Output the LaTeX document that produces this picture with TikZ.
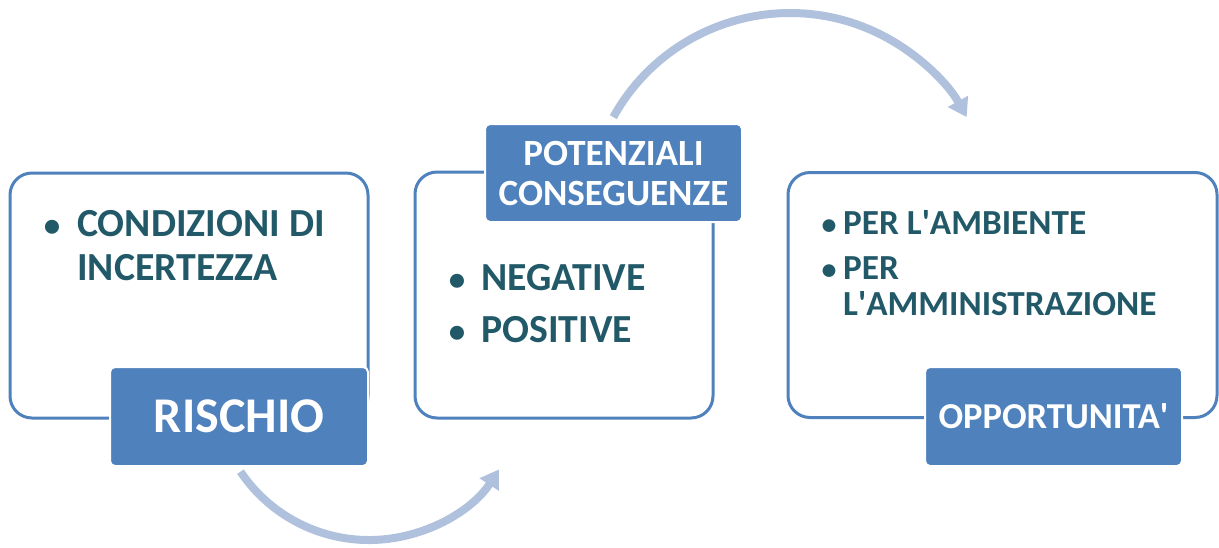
\documentclass[tikz,border=0pt]{standalone}
\usepackage{fontspec}
\setmainfont{Carlito}
\usetikzlibrary{arrows.meta}
\definecolor{boxblue}{HTML}{4F81BD}
\definecolor{txt}{HTML}{215968}
\definecolor{arr}{HTML}{AFC1DD}
\newcommand{\apo}{\textquotesingle}
\begin{document}
\begin{tikzpicture}[x=1pt,y=1pt,
  frame/.style={draw=boxblue, line width=3pt, rounded corners=22pt, inner sep=0pt},
  tag/.style={fill=boxblue, draw=white, line width=2pt, rounded corners=5pt, text=white, inner sep=0pt, align=center},
  item/.style={anchor=base west, inner sep=0pt, text=txt},
  dot/.style={anchor=base, inner sep=0pt, text=txt},
  flow/.style={draw=arr, line width=8pt, -{Triangle[length=18pt,width=22pt]}}]
\useasboundingbox (0,0) rectangle (1219,-547);
% connectors
\coordinate (t1) at (613.3,-117.1);
\coordinate (b1) at (240.5,-471.7);
\draw[flow] (t1) arc[start angle=151, end angle=29, radius=202];
\draw[flow] (b1) arc[start angle=214, end angle=327, radius=155];
% frames
\node[frame, minimum width=358pt, minimum height=245pt] (f1) at (189,-295.5) {};
\node[frame, minimum width=298pt, minimum height=246pt] (f2) at (564,-295) {};
\node[frame, minimum width=429pt, minimum height=245pt] (f3) at (1002.5,-295) {};
% tags
\node[tag, minimum width=258pt, minimum height=99pt, font=\fontsize{50}{60}\selectfont\bfseries] (rischio) at (239,-416.5) {RISCHIO};
\node[tag, minimum width=257pt, minimum height=98pt, font=\fontsize{37}{40}\selectfont\bfseries] (pot) at (613.5,-173) {POTENZIALI\\CONSEGUENZE};
\node[tag, minimum width=257pt, minimum height=99pt, font=\fontsize{36.5}{40}\selectfont\bfseries] (opp) at (1053.5,-416.5) {OPPORTUNITA\apo};
% box texts
\begin{scope}[every node/.append style={font=\fontsize{39.8}{44}\selectfont\bfseries}]
\node[dot] (d1) at (52,-236) {\fontsize{33}{40}\selectfont•};
\node[item] (c1) at (77,-236) {CONDIZIONI DI};
\node[item] (c2) at (77,-280) {INCERTEZZA};
\node[dot] (d2) at (457,-290) {\fontsize{33}{40}\selectfont•};
\node[item] (n1) at (481,-290) {NEGATIVE};
\node[dot] (d3) at (457,-342) {\fontsize{33}{40}\selectfont•};
\node[item] (p1) at (481,-342) {POSITIVE};
\end{scope}
\begin{scope}[every node/.append style={font=\fontsize{35.2}{40}\selectfont\bfseries}]
\node[dot] (d4) at (829,-234) {\fontsize{30}{40}\selectfont•};
\node[item] (a1) at (843,-234) {PER L\apo AMBIENTE};
\node[dot] (d5) at (829,-279) {\fontsize{30}{40}\selectfont•};
\node[item] (a2) at (843,-279) {PER};
\node[item] (a3) at (843,-315) {L\apo AMMINISTRAZIONE};
\end{scope}
\end{tikzpicture}
\end{document}
